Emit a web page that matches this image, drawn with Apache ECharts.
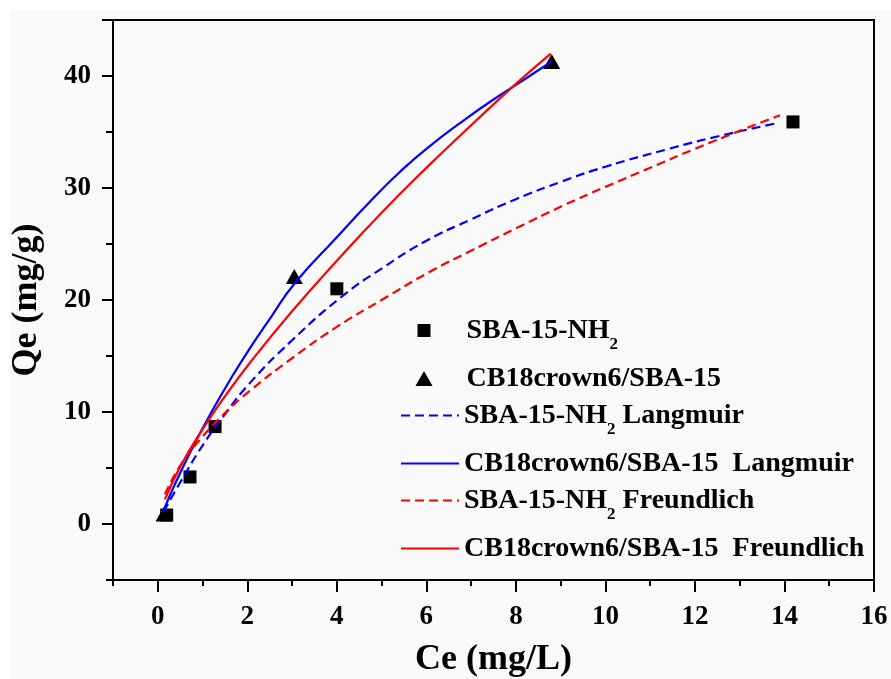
<!DOCTYPE html>
<html>
<head>
<meta charset="utf-8">
<script src="https://cdn.jsdelivr.net/npm/echarts@6/dist/echarts.min.js"></script>
<style>
html,body{margin:0;padding:0;background:#fff;}
#chart{position:absolute;left:0;top:0;width:891px;height:679px;
background:linear-gradient(#f9f9f9,#f9f9f9) 10px 10px / 881px 669px no-repeat,#fff;}
</style>
</head>
<body>
<div id="chart"></div>
<script>
// ---- data ----
const xTickLabels = [0, 2, 4, 6, 8, 10, 12, 14, 16];
const yTickLabels = [0, 10, 20, 30, 40];

const sbaCe = [0.2, 0.72, 1.28, 4.0, 14.19];
const sbaQe = [0.8, 4.2, 8.7, 21.0, 35.9];

const cbCe = [0.14, 3.05, 8.8];
const cbQe = [0.9, 22.1, 41.3];

const sbaLangCe = [0.13, 0.5, 1, 1.5, 2.06, 3, 4.14, 5, 5.96, 7, 8, 9.04, 10, 11.42, 12.5, 13.85];
const sbaLangQe = [1.1, 3.7, 7.0, 9.8, 12.6, 16.4, 20.4, 22.8, 25.2, 27.2, 29.0, 30.6, 31.9, 33.5, 34.6, 35.8];

const cbLangCe = [0.12, 0.4, 0.8, 1.2, 1.65, 2.06, 2.5, 3.06, 4, 4.77, 5.4, 6, 6.89, 7.5, 8.23, 8.8];
const cbLangQe = [1.1, 3.7, 7.0, 10.0, 13.1, 15.7, 18.3, 21.5, 25.6, 28.9, 31.4, 33.5, 36.2, 37.9, 39.8, 41.3];

const sbaFreCe = [0.16, 0.5, 1, 1.5, 2.06, 3, 4, 5, 6.07, 7, 8, 9.04, 10, 11, 12, 13, 13.9];
const sbaFreQe = [2.65, 5.2, 7.8, 9.9, 11.9, 14.8, 17.6, 20.0, 22.5, 24.4, 26.4, 28.4, 30.1, 31.8, 33.5, 35.1, 36.5];

const cbFreCe = [0.16, 0.5, 1, 1.5, 2.06, 3, 4, 5, 6, 7, 8, 8.78];
const cbFreQe = [2.2, 5.1, 8.45, 11.4, 14.4, 19.0, 23.5, 27.8, 31.8, 35.6, 39.3, 42.0];

const names = [
  'SBA-15-NH2',
  'CB18crown6/SBA-15',
  'SBA-15-NH2 Langmuir',
  'CB18crown6/SBA-15  Langmuir',
  'SBA-15-NH2 Freundlich',
  'CB18crown6/SBA-15  Freundlich'
];

function pairs(xs, ys) { return xs.map((x, i) => [x, ys[i]]); }

const FONT = '"Liberation Serif", "Times New Roman", serif';
const BLUE = '#0000ff', RED = '#ff0000';

// main grid geometry
const G = { left: 113, right: 17, top: 20, bottom: 99 };
const W = 891, H = 679;
const X_MIN = -1, X_MAX = 16, Y_MIN = -5, Y_MAX = 45;
const pxPerX = (W - G.left - G.right) / (X_MAX - X_MIN);
const pxPerY = (H - G.top - G.bottom) / (Y_MAX - Y_MIN);

function richFor(padLeft) {
  return {
    m: { fontFamily: FONT, fontWeight: 'bold', fontSize: 28, lineHeight: 45, color: '#000', padding: [0, 0, 0, padLeft] },
    n: { fontFamily: FONT, fontWeight: 'bold', fontSize: 28, lineHeight: 45, color: '#000' },
    s: { fontFamily: FONT, fontWeight: 'bold', fontSize: 17, lineHeight: 17, color: '#000', verticalAlign: 'bottom' }
  };
}

function fmt(name) {
  const idx = name.indexOf('NH2');
  if (idx < 0) return '{m|' + name + '}';
  const before = name.slice(0, idx + 2);
  const after = name.slice(idx + 3);
  let s = '{m|' + before + '}{s|2}';
  if (after) s += '{n|' + after + '}';
  return s;
}

const rowCenters = [329, 377, 414, 462, 499, 547];
// icon box per row: [left, itemWidth, itemHeight, text padding]
const rowBox = [
  [417.5, 13, 13, 31],
  [415.5, 17, 15, 29],
  [400, 58, 14, 0],
  [400, 58, 14, 0],
  [400, 58, 14, 0],
  [400, 58, 14, 0]
];
const legends = names.map((n, i) => ({
  show: true,
  data: [n],
  orient: 'vertical',
  left: rowBox[i][0],
  top: rowCenters[i] - 22.5 + 10,
  padding: 0,
  itemWidth: rowBox[i][1],
  itemHeight: rowBox[i][2],
  selectedMode: false,
  itemStyle: i < 2 ? { opacity: 1 } : { opacity: 0 },
  formatter: fmt,
  textStyle: { rich: richFor(rowBox[i][3]) }
}));

const axisLabelStyle = { fontFamily: FONT, fontWeight: 'bold', fontSize: 27, color: '#000' };
const hidden = { show: false };
const tickLine = { color: '#000', width: 2 };

const chart = echarts.init(document.getElementById('chart'), null, { renderer: 'canvas' });
chart.setOption({
  backgroundColor: 'transparent',
  animation: false,
  grid: [
    { ...G, outerBoundsMode: 'none', containLabel: false,
      show: true, borderColor: '#000', borderWidth: 2, backgroundColor: 'transparent' },
    // helper grid whose x range starts at Ce = 0 (for major x ticks)
    { left: G.left + (0 - X_MIN) * pxPerX, right: G.right, top: G.top, bottom: G.bottom,
      outerBoundsMode: 'none', containLabel: false, show: false },
    // helper grid whose y range starts at Qe = 0 (for major y ticks)
    { left: G.left, right: G.right, top: G.top, bottom: G.bottom + (0 - Y_MIN) * pxPerY,
      outerBoundsMode: 'none', containLabel: false, show: false }
  ],
  legend: legends,
  xAxis: [{
    gridIndex: 0, type: 'value', min: X_MIN, max: X_MAX, interval: 1,
    position: 'bottom',
    name: 'Ce (mg/L)', nameLocation: 'middle', nameGap: 62,
    nameTextStyle: { fontFamily: FONT, fontWeight: 'bold', fontSize: 36, color: '#000' },
    axisLine: { show: true, onZero: false, lineStyle: { color: '#000', width: 2 } },
    axisTick: { show: true, inside: false, length: 6, lineStyle: tickLine },
    axisLabel: { show: true, margin: 24, customValues: xTickLabels, ...axisLabelStyle },
    splitLine: hidden
  }, {
    gridIndex: 1, type: 'value', min: 0, max: X_MAX, interval: 2,
    position: 'bottom',
    axisLine: { show: false, onZero: false },
    axisTick: { show: true, inside: false, length: 12, lineStyle: tickLine },
    axisLabel: hidden,
    splitLine: hidden
  }, {
    gridIndex: 2, type: 'value', min: 0, max: 1, show: false,
    axisLine: { show: false, onZero: false }, axisTick: hidden, axisLabel: hidden, splitLine: hidden
  }],
  yAxis: [{
    gridIndex: 0, type: 'value', min: Y_MIN, max: Y_MAX, interval: 5,
    position: 'left',
    name: 'Qe (mg/g)', nameLocation: 'middle', nameGap: 68,
    nameTextStyle: { fontFamily: FONT, fontWeight: 'bold', fontSize: 36, color: '#000' },
    axisLine: { show: true, onZero: false, lineStyle: { color: '#000', width: 2 } },
    axisTick: { show: true, inside: false, length: 7, lineStyle: tickLine },
    axisLabel: { show: true, margin: 22, customValues: yTickLabels, ...axisLabelStyle },
    splitLine: hidden
  }, {
    gridIndex: 1, type: 'value', min: 0, max: 1, show: false,
    axisLine: { show: false, onZero: false }, axisTick: hidden, axisLabel: hidden, splitLine: hidden
  }, {
    gridIndex: 2, type: 'value', min: 0, max: Y_MAX, interval: 10,
    position: 'left',
    axisLine: { show: false, onZero: false },
    axisTick: { show: true, inside: false, length: 11, lineStyle: tickLine },
    axisLabel: hidden,
    splitLine: hidden
  }],
  series: [
    {
      name: names[0], type: 'scatter', symbol: 'rect', symbolSize: 13, z: 1,
      itemStyle: { color: '#000', opacity: 1 }, data: pairs(sbaCe, sbaQe)
    },
    {
      name: names[1], type: 'scatter', symbol: 'triangle', symbolSize: [17, 15], z: 1,
      itemStyle: { color: '#000', opacity: 1 }, data: pairs(cbCe, cbQe)
    },
    {
      name: names[2], type: 'line', smooth: true, symbol: 'none', z: 3,
      lineStyle: { color: BLUE, width: 2.2, type: [9, 5] }, itemStyle: { color: BLUE },
      data: pairs(sbaLangCe, sbaLangQe)
    },
    {
      name: names[3], type: 'line', smooth: true, symbol: 'none', z: 3,
      lineStyle: { color: BLUE, width: 2.2, type: 'solid' }, itemStyle: { color: BLUE },
      data: pairs(cbLangCe, cbLangQe)
    },
    {
      name: names[4], type: 'line', smooth: true, symbol: 'none', z: 3,
      lineStyle: { color: RED, width: 2.2, type: [9, 5] }, itemStyle: { color: RED },
      data: pairs(sbaFreCe, sbaFreQe)
    },
    {
      name: names[5], type: 'line', smooth: true, symbol: 'none', z: 3,
      lineStyle: { color: RED, width: 2.2, type: 'solid' }, itemStyle: { color: RED },
      data: pairs(cbFreCe, cbFreQe)
    }
  ]
});
</script>
</body>
</html>
